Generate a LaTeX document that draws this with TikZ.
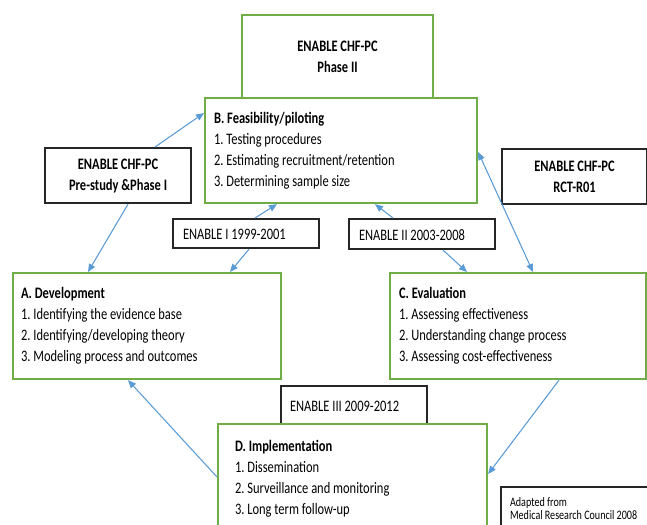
\documentclass[tikz,border=0pt]{standalone}
\usepackage{fontspec}
\setmainfont{Carlito}[FakeStretch=0.78]
\usetikzlibrary{arrows.meta}
\definecolor{grn}{HTML}{70AD47}
\definecolor{blu}{HTML}{5B9BD5}
\definecolor{blk}{HTML}{262626}
\frenchspacing
\begin{document}
\begin{tikzpicture}[x=0.75pt,y=-0.75pt,
  base/.style={anchor=north west,fill=white,inner ysep=0pt,font=\fontsize{12}{15.75}\selectfont},
  gbox/.style={base,draw=grn,line width=1.6pt,align=flush left},
  kbox/.style={base,draw=blk,line width=1.6pt,align=flush center,font=\bfseries\fontsize{12}{15.75}\selectfont},
  lbox/.style={base,draw=blk,line width=1.6pt,align=flush left,text height=9pt,text depth=0pt},
  arr/.style={draw=blu,line width=0.8pt,-{Triangle[length=6pt,width=5pt]}},
  darr/.style={draw=blu,line width=0.8pt,{Triangle[length=6pt,width=5pt]}-{Triangle[length=6pt,width=5pt]}}]
\useasboundingbox (0,0) rectangle (647,525);
% top phase II box
\node[kbox,draw=grn,minimum width=191*0.75pt,minimum height=83*0.75pt,inner xsep=0pt] (ph2) at (241,14) {ENABLE CHF-PC\\Phase II};
% B
\node[gbox,minimum width=272*0.75pt,minimum height=105*0.75pt,inner xsep=9*0.75pt,text width=254*0.75pt] (b) at (204,97)
 {\textbf{B. Feasibility/piloting}\\1. Testing procedures\\2. Estimating recruitment/retention\\3. Determining sample size};
% pre-study and RCT
\node[kbox,minimum width=146*0.75pt,minimum height=55*0.75pt,inner xsep=0pt] (pre) at (44,147) {ENABLE CHF-PC\\Pre-study \&Phase I};
\node[kbox,minimum width=145*0.75pt,minimum height=55*0.75pt,inner xsep=0pt] (rct) at (501,148) {ENABLE CHF-PC\\RCT-R01};
% ENABLE I / II
\node[lbox,minimum width=146*0.75pt,minimum height=29*0.75pt,inner xsep=10*0.75pt,text width=126*0.75pt] (e1) at (172,218) {ENABLE I 1999-2001};
\node[lbox,minimum width=146*0.75pt,minimum height=30*0.75pt,inner xsep=10*0.75pt,text width=126*0.75pt] (e2) at (348,218) {ENABLE II 2003-2008};
% A and C
\node[gbox,minimum width=268*0.75pt,minimum height=106*0.75pt,inner xsep=8*0.75pt,text width=252*0.75pt] (a) at (12,272)
 {\textbf{A. Development}\\1. Identifying the evidence base\\2. Identifying/developing theory\\3. Modeling process and outcomes};
\node[gbox,minimum width=256*0.75pt,minimum height=106*0.75pt,inner xsep=9*0.75pt,text width=238*0.75pt] (c) at (389,272)
 {\textbf{C. Evaluation}\\1. Assessing effectiveness\\2. Understanding change process\\3. Assessing cost-effectiveness};
% ENABLE III and D
\node[lbox,minimum width=146*0.75pt,minimum height=38*0.75pt,inner xsep=9*0.75pt,text width=128*0.75pt] (e3) at (280,385) {ENABLE III 2009-2012};
\node[gbox,minimum width=269*0.75pt,minimum height=110*0.75pt,inner xsep=17*0.75pt,text width=235*0.75pt] (d) at (217,423)
 {\textbf{D. Implementation}\\1. Dissemination\\2. Surveillance and monitoring\\3. Long term follow-up};
% adapted note
\node[base,draw=blk,line width=1.6pt,align=flush left,minimum width=147*0.75pt,minimum height=43*0.75pt,inner xsep=9*0.75pt,text width=129*0.75pt,font=\fontsize{9.7}{9.75}\selectfont] (ad) at (500,486)
 {Adapted from\\Medical Research Council 2008};
% connectors
\draw[arr] (pre.north -| 155,0) -- (b.west |- 0,113);
\draw[arr] (pre.south -| 128,0) -- (a.north -| 88,0);
\draw[arr] (e1.north -| 255,0) -- (b.south -| 277,0);
\draw[arr] (e1.south -| 249,0) -- (a.north -| 230,0);
\draw[arr] (e2.north -| 393,0) -- (b.south -| 375,0);
\draw[arr] (e2.south -| 443,0) -- (c.north -| 467,0);
\draw[darr] (b.east |- 0,152) -- (c.north -| 533,0);
\draw[arr] (c.south -| 559,0) -- (d.east |- 0,474);
\draw[arr] (d.west |- 0,477) -- (a.south -| 128,0);
\end{tikzpicture}
\end{document}
